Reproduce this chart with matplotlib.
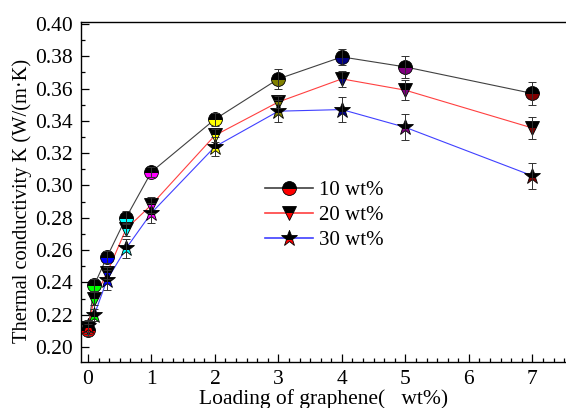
import numpy as np
import matplotlib.pyplot as plt
from matplotlib.lines import Line2D
from matplotlib.ticker import MultipleLocator

plt.rcParams['font.family'] = ['Liberation Serif', 'DejaVu Serif']

# graphene loading (wt%)
loading = [0, 0.1, 0.3, 0.6, 1, 2, 3, 4, 5, 7]

# thermal conductivity for each series
k_10 = [0.2105, 0.2384, 0.2557, 0.2800, 0.3084, 0.3410, 0.3660, 0.3796, 0.3734, 0.3570]
k_20 = [0.2120, 0.2300, 0.2458, 0.2730, 0.2880, 0.3310, 0.3517, 0.3660, 0.3590, 0.3356]
k_30 = [0.2130, 0.2198, 0.2415, 0.2610, 0.2830, 0.3240, 0.3460, 0.3470, 0.3360, 0.3060]

err_10 = [0.004, 0.004, 0.004, 0.004, 0.003, 0.004, 0.006, 0.005, 0.007, 0.007]
err_20 = [0.004, 0.004, 0.004, 0.004, 0.005, 0.004, 0.004, 0.005, 0.006, 0.007]
err_30 = [0.004, 0.004, 0.006, 0.006, 0.006, 0.006, 0.007, 0.008, 0.008, 0.008]

point_colors = ['#ff0000', '#00ff00', '#0000ff', '#00ffff', '#ff00ff',
                '#ffff00', '#808000', '#000080', '#800080', '#800000']

series = [
    ('10 wt%', k_10, err_10, 'o', '#404040', 10),
    ('20 wt%', k_20, err_20, 'v', '#ff4040', 10.5),
    ('30 wt%', k_30, err_30, '*', '#4040ff', 12),
]

fig = plt.figure(figsize=(5.66, 4.08), dpi=100)
ax = fig.add_axes([0.143, 0.1127, 0.857, 0.8333])

handles = []
for label, vals, errs, mk, lc, ms in series:
    ax.plot(loading, vals, color=lc, lw=0.8, zorder=2)
    for x, y, c in zip(loading, vals, point_colors):
        ax.plot([x], [y], marker=mk, ms=ms, fillstyle='bottom',
                markerfacecolor=c, markerfacecoloralt='black',
                markeredgecolor='black', markeredgewidth=0.6,
                linestyle='none', zorder=3)
    ax.errorbar(loading, vals, yerr=errs, fmt='none', ecolor='#303030',
                elinewidth=0.7, capsize=3, capthick=0.7, zorder=4)
    handles.append(Line2D([], [], color=lc, lw=1.2, marker=mk, ms=ms,
                          fillstyle='bottom', markerfacecolor='red',
                          markerfacecoloralt='black', markeredgecolor='black',
                          markeredgewidth=0.6, label=label))

ax.set_xlim(-0.11, 7.53)
ax.set_ylim(0.1907, 0.4012)
ax.set_xticks(range(0, 8))
ax.set_yticks(np.arange(0.20, 0.401, 0.02))
ax.yaxis.set_major_formatter(plt.FuncFormatter(lambda v, p: f'{v:.2f}'))
ax.xaxis.set_minor_locator(MultipleLocator(1 / 6))
ax.yaxis.set_minor_locator(MultipleLocator(0.01))
ax.tick_params(which='both', direction='in', top=False, right=False,
               labelsize=15.5, width=0.9)
ax.tick_params(which='major', length=6, pad=6)
ax.tick_params(which='minor', length=3)
ax.spines['right'].set_visible(False)
for s in ['left', 'bottom', 'top']:
    ax.spines[s].set_linewidth(1.0)

ax.set_xlabel('Loading of graphene(   wt%)', fontsize=15.5, labelpad=0)
ax.set_ylabel('Thermal conductivity K (W/(m\u00b7K)', fontsize=14.8,
              labelpad=2, y=0.474)

ax.legend(handles=handles, loc='upper left', bbox_to_anchor=(0.358, 0.5635),
          frameon=False, fontsize=15, handlelength=2.3, handletextpad=0.3,
          labelspacing=0.25, borderpad=0)

fig.savefig('out.png', dpi=100)
